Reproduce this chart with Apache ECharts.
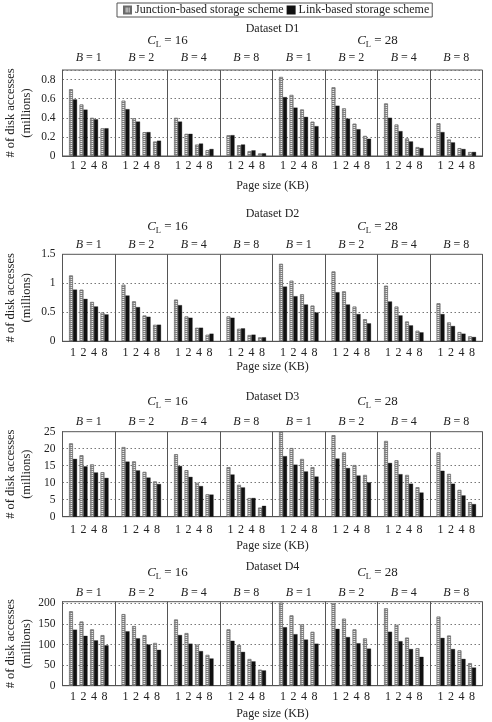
<!DOCTYPE html>
<html>
<head>
<meta charset="utf-8">
<script src="https://cdn.jsdelivr.net/npm/echarts@6/dist/echarts.min.js"></script>
<style>html,body{margin:0;padding:0;background:#fff;}#c{width:492px;height:722px;}</style>
</head>
<body>
<div id="c"></div>
<script>
// ---------- data ----------
const pageSizes = ['1', '2', '4', '8'];
const bValues = ['1', '2', '4', '8'];
const clValues = ['16', '28'];
const datasetNames = ['D1', 'D2', 'D3', 'D4'];
const seriesNames = ['Junction-based storage scheme', 'Link-based storage scheme'];

// each row: one (C_L, B) group, values for page sizes 1,2,4,8 (millions)
const d1Junction = [[0.70,0.54,0.40,0.29],[0.58,0.395,0.25,0.152],[0.40,0.232,0.12,0.062],[0.218,0.114,0.052,0.028],
                    [0.828,0.64,0.488,0.36],[0.72,0.499,0.339,0.211],[0.551,0.33,0.184,0.094],[0.343,0.173,0.083,0.042]];
const d1Link     = [[0.592,0.485,0.384,0.29],[0.49,0.36,0.25,0.16],[0.36,0.232,0.13,0.073],[0.218,0.12,0.059,0.028],
                    [0.616,0.506,0.409,0.312],[0.526,0.391,0.28,0.18],[0.40,0.26,0.152,0.083],[0.25,0.142,0.073,0.042]];
const d2Junction = [[1.137,0.891,0.68,0.497],[0.977,0.691,0.446,0.286],[0.72,0.429,0.234,0.114],[0.429,0.217,0.109,0.069],
                    [1.337,1.046,0.811,0.617],[1.206,0.863,0.60,0.383],[0.96,0.60,0.343,0.183],[0.657,0.326,0.16,0.086]];
const d2Link     = [[0.891,0.731,0.60,0.463],[0.789,0.589,0.423,0.286],[0.623,0.406,0.234,0.131],[0.406,0.223,0.114,0.069],
                    [0.943,0.777,0.634,0.497],[0.846,0.634,0.469,0.309],[0.686,0.446,0.274,0.154],[0.469,0.263,0.131,0.074]];
const d3Junction = [[21.6,18.1,15.4,13.1],[20.5,16.3,13.2,10.4],[18.4,13.7,10.0,6.6],[14.6,9.4,5.5,2.7],
                    [25.0,20.2,17.0,14.6],[24.0,18.9,15.2,12.3],[22.3,16.6,12.3,8.7],[18.9,12.6,7.9,4.3]];
const d3Link     = [[17.0,14.8,13.0,11.4],[16.2,13.6,11.5,9.6],[14.9,11.7,9.0,6.5],[12.4,8.6,5.5,3.2],
                    [17.8,15.3,13.3,11.8],[17.1,14.3,12.1,10.1],[15.8,12.5,9.7,7.1],[13.5,9.7,6.25,3.7]];
const d4Junction = [[181,156,137,123],[174,145,123,104],[161,128,100,75],[137,99,65,39],
                    [202,171,149,131],[200,163,137,115],[188,148,117,91],[168,122,86,55]];
const d4Link     = [[136,121,110,98],[132,115,100,87],[123,102,84,66],[109,82,59,37],
                    [142,125,112,102],[138,118,103,90],[131,108,89,70],[116,89,65,44]];

const yMax = [0.9, 1.5, 25, 204];
const yInterval = [0.2, 0.5, 5, 50];

// ---------- layout (styles / positions) ----------
const FONT = 'Liberation Serif';
const plotLeft = 62.5, plotWidth = 420;
const panelLayout = [
  {top: 70,    height: 86, titleY: 29,  clY: 41,  bMargin: 6, pageMargin: 4, pageNameY: 186},
  {top: 254.3, height: 87, titleY: 214, clY: 227, bMargin: 3, pageMargin: 6, pageNameY: 366.7},
  {top: 431.7, height: 85, titleY: 397, clY: 402, bMargin: 4, pageMargin: 7, pageNameY: 545.7},
  {top: 601.7, height: 84, titleY: 567, clY: 573, bMargin: 3, pageMargin: 5, pageNameY: 714}
];
const panelJ = [d1Junction, d2Junction, d3Junction, d4Junction];
const panelL = [d1Link, d2Link, d3Link, d4Link];

// hatched pattern for junction bars
const pc = document.createElement('canvas');
pc.width = 3; pc.height = 2;
const pctx = pc.getContext('2d');
pctx.fillStyle = '#e6e6e6'; pctx.fillRect(0, 0, 3, 2);
pctx.fillStyle = '#808080'; pctx.fillRect(0, 0, 3, 1);
pctx.fillStyle = '#a8a8a8'; pctx.fillRect(1, 1, 1, 1);
const junctionStyle = {color: {image: pc, repeat: 'repeat'}, borderColor: '#6a6a6a', borderWidth: 0.8};
const linkStyle = {color: '#111', borderColor: '#111', borderWidth: 0.3};

const grids = [], xAxes = [], yAxes = [], series = [], graphics = [];
const groupCats = [];
clValues.forEach(cl => bValues.forEach(b => groupCats.push(cl + '|' + b)));
const groupW = plotWidth / groupCats.length;
const slot = groupW / 5;

panelLayout.forEach((P, p) => {
  // frame grid
  const fi = grids.length;
  const ratio = yMax[p] / yInterval[p];
  grids.push({left: plotLeft, top: P.top, width: plotWidth, height: P.height, show: true,
              borderColor: '#555', borderWidth: 1, backgroundColor: 'transparent', outerBoundsMode: 'none'});
  xAxes.push({type: 'category', gridIndex: fi, position: 'top', data: groupCats,
    axisLine: {show: true, lineStyle: {color: '#555'}}, axisTick: {show: false},
    splitLine: {show: true, lineStyle: {color: '#555', width: 1, type: 'solid'}},
    axisLabel: {show: true, margin: P.bMargin, interval: 0, color: '#222',
      formatter: v => '{i|B} = ' + v.split('|')[1],
      rich: {i: {fontStyle: 'italic', fontFamily: FONT, fontSize: 12, color: '#222'}},
      fontFamily: FONT, fontSize: 12}});
  yAxes.push({type: 'value', gridIndex: fi, min: 0, max: yMax[p], interval: yInterval[p],
    axisLine: {show: true, lineStyle: {color: '#555'}}, axisTick: {show: false},
    splitLine: {show: true, lineStyle: {color: '#777', type: [1.5, 2.5], width: 1}},
    axisLabel: {fontFamily: FONT, fontSize: 11.5, color: '#222', margin: 7,
      showMaxLabel: Math.abs(ratio - Math.round(ratio)) < 1e-9},
    name: '# of disk accesses\n(millions)', nameLocation: 'middle', nameGap: 28, nameMoveOverlap: false,
    nameTextStyle: {fontFamily: FONT, fontSize: 12.5, color: '#222', lineHeight: 16}});

  // bar grids per group
  groupCats.forEach((g, gi) => {
    const idx = grids.length;
    grids.push({left: plotLeft + gi * groupW + slot / 2, top: P.top, width: slot * 4, height: P.height, outerBoundsMode: 'none'});
    xAxes.push({type: 'category', gridIndex: idx, data: pageSizes,
      axisLine: {show: false}, axisTick: {show: false}, splitLine: {show: false},
      axisLabel: {interval: 0, fontFamily: FONT, fontSize: 12, color: '#222', margin: P.pageMargin}});
    yAxes.push({type: 'value', gridIndex: idx, min: 0, max: yMax[p], show: false, splitLine: {show: false}});
    series.push({type: 'bar', name: seriesNames[0], xAxisIndex: idx, yAxisIndex: idx,
      data: panelJ[p][gi], barWidth: 4, barGap: '0%', itemStyle: junctionStyle, silent: true});
    series.push({type: 'bar', name: seriesNames[1], xAxisIndex: idx, yAxisIndex: idx,
      data: panelL[p][gi], barWidth: 4, barGap: '0%', itemStyle: linkStyle, silent: true});
  });

  // texts
  graphics.push({type: 'text', x: plotLeft + plotWidth / 2, y: P.titleY,
    style: {text: 'Dataset ' + datasetNames[p], font: '12px "' + FONT + '"', fill: '#222', align: 'center', verticalAlign: 'middle'}});
  clValues.forEach((cl, ci) => {
    graphics.push({type: 'text', x: plotLeft + plotWidth / 4 + ci * plotWidth / 2, y: P.clY,
      style: {text: '{c|C}{l|L}{n| = ' + cl + '}', align: 'center', verticalAlign: 'middle',
        rich: {c: {fontStyle: 'italic', fontFamily: FONT, fontSize: 13, fill: '#222', lineHeight: 14},
               l: {fontFamily: FONT, fontSize: 8.5, fill: '#222', lineHeight: 9, padding: [8, 0, 0, 0]},
               n: {fontFamily: FONT, fontSize: 13, fill: '#222', lineHeight: 14}}}});
  });
  graphics.push({type: 'text', x: plotLeft + plotWidth / 2, y: P.pageNameY,
    style: {text: 'Page size (KB)', font: '12px "' + FONT + '"', fill: '#222', align: 'center', verticalAlign: 'middle'}});
});

const chart = echarts.init(document.getElementById('c'), null, {renderer: 'canvas'});
chart.setOption({
  animation: false,
  backgroundColor: '#fff',
  legend: {data: seriesNames, left: 117, top: 3, orient: 'horizontal', itemWidth: 7, itemHeight: 7, itemGap: 3,
    padding: [1, 3, 1, 6], borderColor: '#555', borderWidth: 1, icon: 'rect',
    textStyle: {fontFamily: FONT, fontSize: 12, color: '#222', padding: [0, 0, 0, -1]}},
  grid: grids, xAxis: xAxes, yAxis: yAxes, series: series, graphic: graphics
});
</script>
</body>
</html>
